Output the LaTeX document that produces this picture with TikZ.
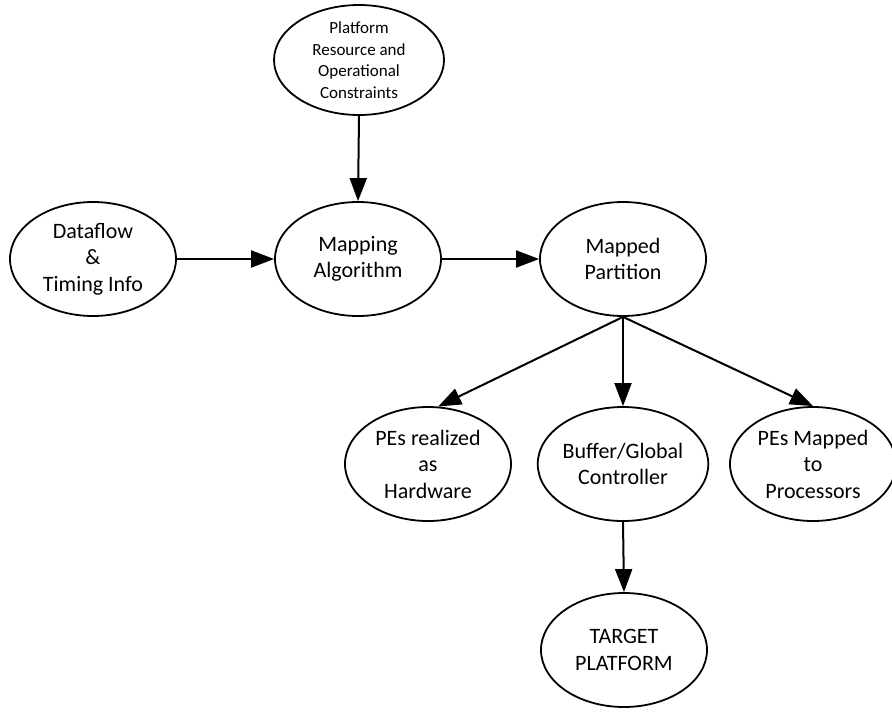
\documentclass[tikz,border=0pt]{standalone}
\usepackage{fontspec}
\setmainfont{Carlito}
\usetikzlibrary{shapes.geometric,arrows.meta}

\tikzset{
  bubble/.style={ellipse, draw, line width=1.8pt, inner sep=0pt,
    minimum width=166pt, minimum height=114pt, align=center,
    font=\fontsize{22}{26.5}\selectfont},
  smallbubble/.style={bubble, minimum width=170pt, minimum height=110pt,
    font=\fontsize{17}{21.5}\selectfont},
  flow/.style={line width=2pt, -{Triangle[length=23pt,width=17pt]}}
}

\begin{document}
\begin{tikzpicture}[x=1pt, y=-1pt]
  \useasboundingbox (0,0) rectangle (892,713);

  % inputs and the mapping step
  \node[smallbubble] (plat) at (359,60) {Platform\\Resource and\\Operational\\Constraints};
  \node[bubble] (data) at (93,259) {Dataflow\\\&\\Timing Info};
  \node[bubble] (alg) at (358,259) {Mapping\\Algorithm};
  \node[bubble] (part) at (623,259) {Mapped\\Partition};

  % outputs of the partition
  \node[bubble] (hw) at (428,464) {PEs realized\\as\\Hardware};
  \node[bubble] (buf) at (623,464) {Buffer/Global\\Controller};
  \node[bubble] (proc) at (813,464) {PEs Mapped\\to\\Processors};
  \node[bubble] (target) at (624,650) {TARGET\\PLATFORM};

  % connectors
  \draw[flow] (plat.south) -- (alg.north);
  \draw[flow] (data.east) -- (alg.west);
  \draw[flow] (alg.east) -- (part.west);
  \draw[flow] (part.south) -- (hw.80);
  \draw[flow] (part.south) -- (buf.north);
  \draw[flow] (part.south) -- (proc.north);
  \draw[flow] (buf.south) -- (target.north);
\end{tikzpicture}
\end{document}
